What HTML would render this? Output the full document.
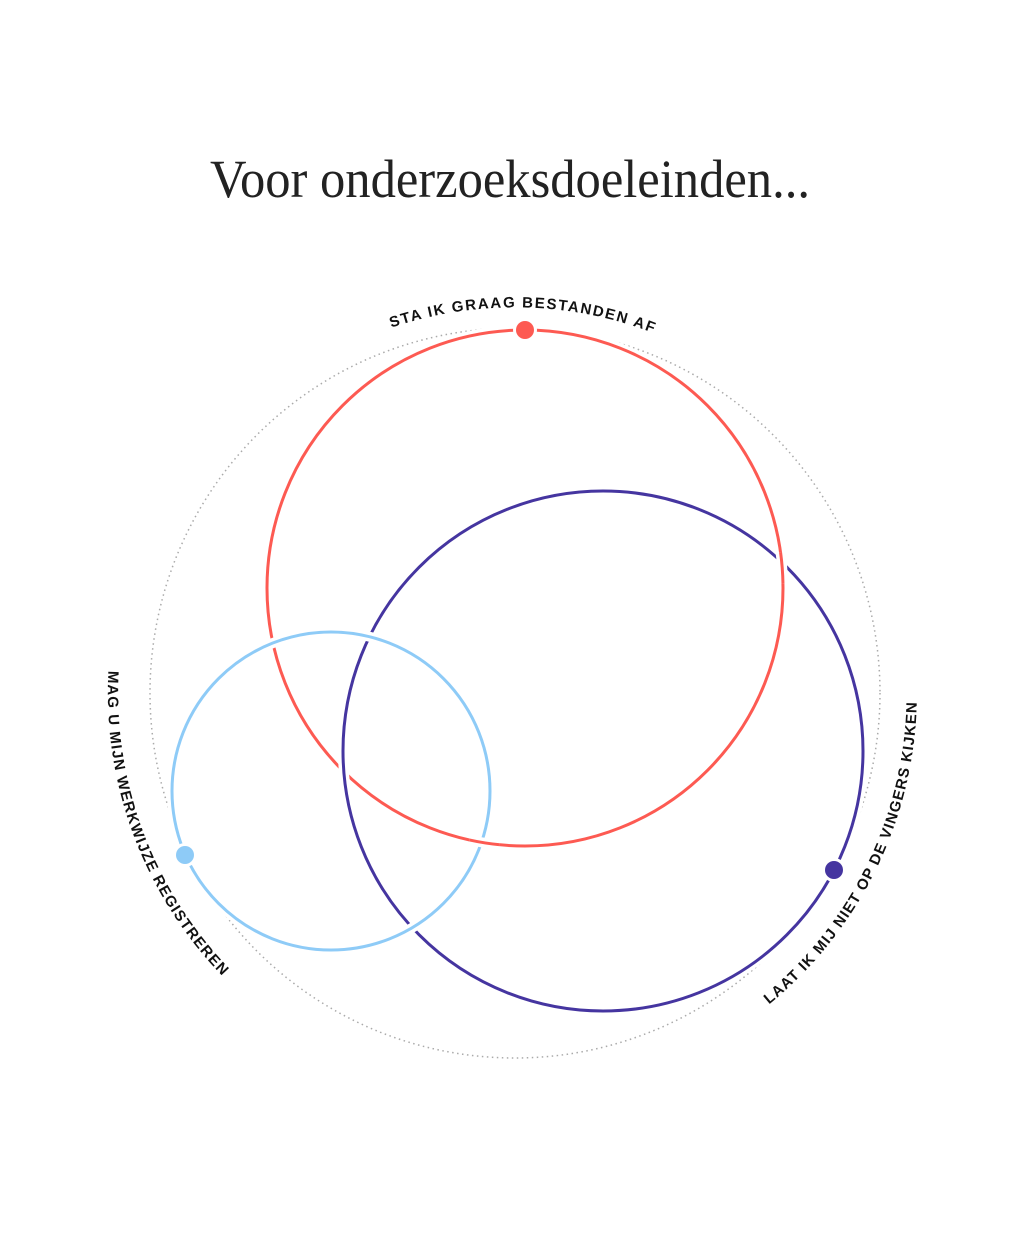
<!DOCTYPE html>
<html><head><meta charset="utf-8"><style>
html,body{margin:0;padding:0;background:#fff;}
svg{display:block;}
.lbl{font-family:"Liberation Sans",sans-serif;font-weight:bold;font-size:15px;letter-spacing:1px;fill:#111;}
</style></head><body>
<svg width="1024" height="1236" viewBox="0 0 1024 1236" xmlns="http://www.w3.org/2000/svg">
<defs>
<path id="pt" d="M136.4,618.1 A386,386 0 0 1 896.4,634"/>
<path id="pl" d="M308.4,342.3 A407,407 0 0 0 589.2,1093.2"/>
<path id="pr" d="M404.2,1079.4 A402,402 0 0 0 751.3,367.8"/>
<clipPath id="cp"><circle cx="485" cy="838" r="16"/><circle cx="782" cy="568" r="16"/></clipPath>
</defs>
<text x="510" y="197" text-anchor="middle" textLength="600" lengthAdjust="spacingAndGlyphs" font-family="Liberation Serif, serif" font-size="54" fill="#222">Voor onderzoeksdoeleinden...</text>
<circle cx="515" cy="693" r="365" fill="none" stroke="#aaa" stroke-width="1.5" stroke-dasharray="1.5 3.5"/>
<text class="lbl"><textPath href="#pt" startOffset="50%" text-anchor="middle" textLength="268">STA IK GRAAG BESTANDEN AF</textPath></text>
<text class="lbl"><textPath href="#pl" startOffset="50%" text-anchor="middle" textLength="336">MAG U MIJN WERKWIJZE REGISTREREN</textPath></text>
<text class="lbl"><textPath href="#pr" startOffset="50%" text-anchor="middle" textLength="348">LAAT IK MIJ NIET OP DE VINGERS KIJKEN</textPath></text>
<g fill="none">
<circle cx="525" cy="588" r="258" stroke="#fff" stroke-width="10"/>
<circle cx="525" cy="588" r="258" stroke="#fd5a52" stroke-width="3"/>
<circle cx="603" cy="751" r="260" stroke="#fff" stroke-width="10"/>
<circle cx="603" cy="751" r="260" stroke="#4535a0" stroke-width="3"/>
<circle cx="331" cy="791" r="159" stroke="#fff" stroke-width="10"/>
<circle cx="331" cy="791" r="159" stroke="#8ecbf7" stroke-width="3"/>
<g clip-path="url(#cp)">
<circle cx="525" cy="588" r="258" stroke="#fff" stroke-width="10"/>
<circle cx="525" cy="588" r="258" stroke="#fd5a52" stroke-width="3"/>
</g>
</g>
<circle cx="525" cy="330" r="12" fill="#fff"/><circle cx="525" cy="330" r="9" fill="#fd5a52"/>
<circle cx="185" cy="855" r="12" fill="#fff"/><circle cx="185" cy="855" r="9" fill="#8ecbf7"/>
<circle cx="834" cy="870" r="12" fill="#fff"/><circle cx="834" cy="870" r="9" fill="#4535a0"/>
</svg>
</body></html>
